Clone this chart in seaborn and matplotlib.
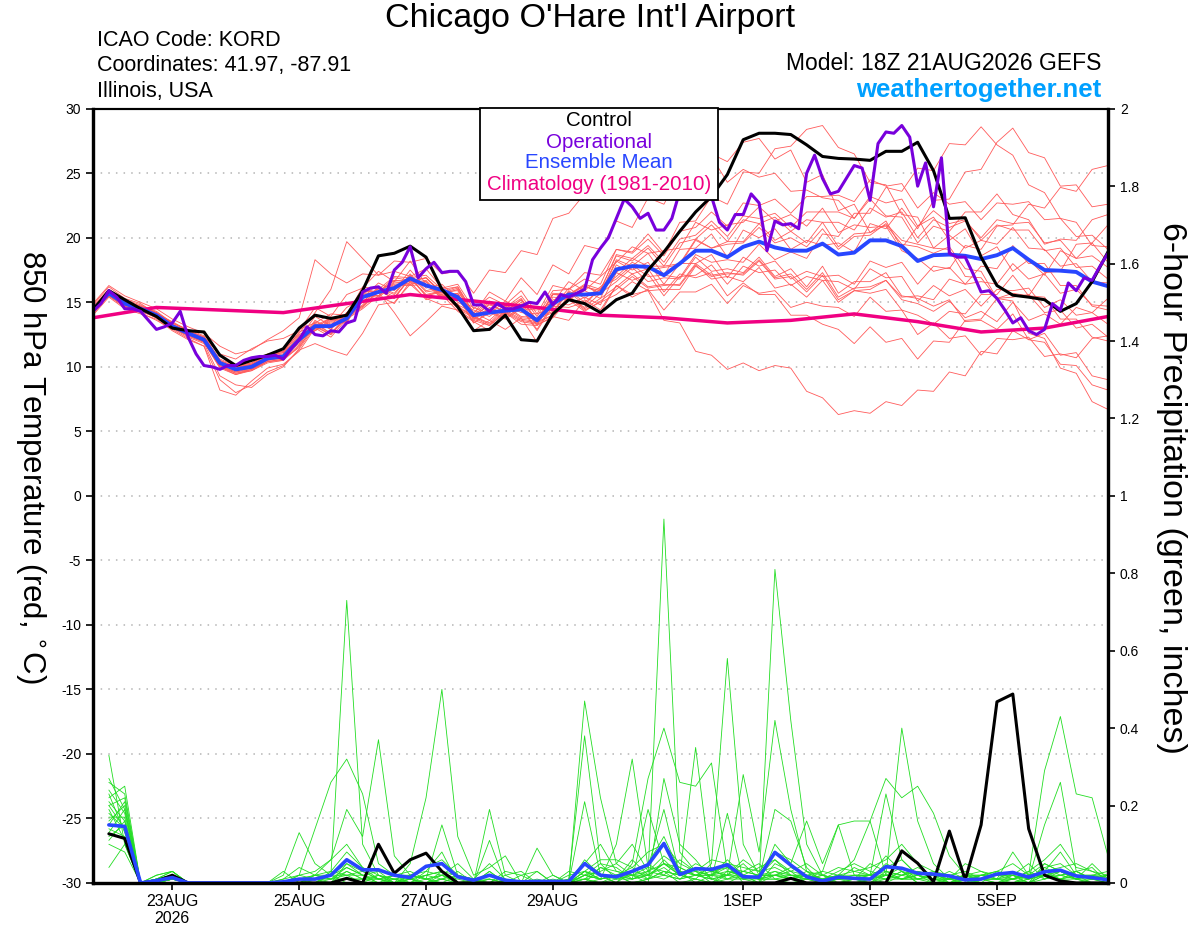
import matplotlib
matplotlib.use("Agg")
import numpy as np
import pandas as pd
import matplotlib.pyplot as plt
from matplotlib.patches import Rectangle
import seaborn as sns

START = "2026-08-21 18:00"

TICK_DATES = ["2026-08-23", "2026-08-25", "2026-08-27", "2026-08-29",
              "2026-09-01", "2026-09-03", "2026-09-05"]
TICK_LABELS = ["23AUG\n2026", "25AUG", "27AUG", "29AUG", "1SEP", "3SEP", "5SEP"]

# 850 hPa temperature, 6-hourly from 18Z 21AUG (65 values)
CONTROL_T = [
    14.4, 15.9, 15.2, 14.5, 13.9, 13.0, 12.8, 12.7,
    10.9, 10.1, 10.5, 10.9, 11.4, 13.0, 14.0, 13.75,
    14.0, 15.9, 18.6, 18.8, 19.35, 18.5, 16.0, 14.65,
    12.8, 12.9, 14.0, 12.1, 12.0, 14.1, 15.2, 14.9,
    14.2, 15.2, 15.7, 17.5, 18.9, 20.5, 22.0, 23.2,
    24.9, 27.6, 28.1, 28.1, 28.0, 27.2, 26.3, 26.15,
    26.1, 26.0, 26.7, 26.7, 27.4, 25.2, 21.5, 21.55,
    18.5, 16.3, 15.55, 15.4, 15.2, 14.3, 14.9, 16.6,
    18.9,
]
MEAN_T = [
    14.4, 15.7, 14.9, 14.5, 14.0, 13.15, 12.6, 12.1,
    10.3, 9.8, 10.0, 10.65, 10.8, 12.1, 13.15, 13.15,
    13.75, 15.4, 15.8, 16.1, 16.85, 16.3, 15.95, 15.4,
    14.0, 14.2, 14.35, 14.45, 13.6, 14.9, 15.6, 15.6,
    15.7, 17.55, 17.8, 17.75, 17.1, 18.0, 19.0, 19.0,
    18.5, 19.3, 19.7, 19.25, 19.0, 19.0, 19.55, 18.7,
    18.85, 19.8, 19.8, 19.35, 18.2, 18.65, 18.7, 18.6,
    18.35, 18.65, 19.2, 18.3, 17.5, 17.45, 17.35, 16.6,
    16.25,
]
# operational run, 3-hourly (129 values)
OPER_T = [
    14.3, 14.9, 15.9, 15.4, 14.5, 14.5, 14.3, 13.6,
    12.9, 13.1, 13.4, 14.3, 12.3, 11.0, 10.1, 10.0,
    9.8, 10.1, 10.1, 10.5, 10.7, 10.8, 10.8, 10.9,
    10.6, 11.4, 12.1, 13.1, 12.5, 12.4, 12.8, 12.7,
    13.4, 13.6, 15.8, 16.1, 16.2, 15.7, 17.5, 18.1,
    19.3, 16.9, 17.6, 18.1, 17.3, 17.4, 17.4, 16.6,
    14.8, 14.8, 14.3, 14.9, 14.5, 14.5, 14.7, 15.0,
    14.9, 15.8, 14.8, 15.6, 15.4, 15.7, 16.0, 18.3,
    19.2, 20.0, 21.5, 23.0, 22.4, 21.5, 21.9, 20.6,
    20.6, 21.5, 23.6, 24.3, 24.8, 24.2, 23.2, 21.2,
    20.6, 21.8, 21.8, 23.4, 22.7, 19.0, 21.3, 21.0,
    21.1, 20.7, 25.0, 26.4, 24.6, 23.4, 23.6, 24.6,
    25.6, 25.4, 22.9, 27.3, 28.2, 28.1, 28.7, 27.8,
    24.0, 25.8, 22.4, 26.2, 18.8, 18.5, 18.5, 17.2,
    15.8, 15.9, 15.3, 14.4, 13.4, 13.8, 12.8, 12.5,
    12.9, 14.9, 14.4, 16.5, 15.9, 16.9, 16.7, 17.8,
    18.8,
]
# climatology, daily points
CLIM_T = [13.8, 14.6, 14.4, 14.2, 14.9, 15.6, 15.1, 14.6, 14.0,
          13.8, 13.4, 13.6, 14.1, 13.5, 12.7, 13.0, 13.9]

TEMP_MEMBERS = [
    [14.8, 16.2, 15.3, 14.9, 14.1, 13.5, 12.8, 12.3,
     11.0, 10.6, 11.4, 12.0, 12.2,
     12.8, 14.6, 13.9, 15.6, 16.1, 17.4, 16.6, 18.2, 16.4, 15.8,
     16.2, 14.1, 15.8, 15.1, 16.9, 15.6, 17.9, 17.2, 19.4, 19.1,
     21.3, 20.8, 23.1, 22.6, 24.9, 24.4, 26.5, 25.9, 27.4, 27.7, 26.1,
     26.8, 24.3, 24.9, 22.1, 22.6, 20.4, 21.3, 19.2, 20.9, 21.6, 19.8,
     20.7, 18.6, 19.3, 17.4, 18.3, 17.1, 19.0, 18.4, 19.6, 18.1],
    [14.1, 15.5, 14.6, 14.2, 13.6, 12.9, 12.2, 11.6,
     9.0, 8.0, 8.6, 9.6, 10.1,
     11.3, 11.8, 11.3, 10.9, 12.6, 14.8, 15.0, 16.4, 15.3, 14.8,
     14.9, 12.8, 13.6, 12.9, 13.8, 11.9, 13.9, 13.6, 15.2, 14.4,
     16.3, 15.6, 15.9, 13.6, 13.4, 11.2, 10.9, 9.8, 10.3, 9.7, 10.1,
     9.9, 8.1, 7.6, 6.3, 6.6, 6.4, 7.3, 7.0, 8.2, 8.1, 9.6,
     9.3, 11.2, 11.0, 12.8, 12.1, 12.6, 10.9, 11.1, 9.3, 9.0],
    [14.6, 15.9, 15.1, 14.7, 14.3, 13.4, 12.9, 12.4,
     10.5, 10.0, 10.1, 10.9, 11.2,
     12.6, 14.2, 16.0, 19.7, 18.4, 17.1, 17.4, 17.0, 17.6, 16.1,
     16.4, 14.5, 15.4, 14.8, 15.9, 14.1, 16.3, 16.0, 17.3, 17.1,
     19.1, 18.9, 20.3, 18.8, 21.2, 21.3, 23.2, 22.6, 25.1, 25.0, 26.9,
     27.1, 28.4, 28.7, 27.0, 26.5, 24.3, 24.1, 21.8, 21.6, 19.2, 19.1,
     17.0, 16.9, 15.3, 15.7, 15.5, 17.3, 17.4, 19.5, 19.6, 21.0],
    [14.3, 15.6, 14.8, 14.4, 13.8, 13.0, 12.4, 11.9,
     10.0, 9.4, 9.8, 10.4, 10.6,
     11.7, 13.4, 12.6, 13.9, 14.8, 16.1, 15.4, 16.9, 15.6, 15.9,
     14.7, 13.9, 13.4, 14.6, 13.8, 13.7, 14.2, 15.8, 14.8, 16.1,
     16.8, 17.9, 17.0, 17.1, 16.9, 18.7, 18.1, 18.3, 18.1, 19.5, 18.3,
     18.9, 18.4, 20.3, 20.1, 21.9, 21.9, 23.9, 23.6, 25.4, 25.2, 27.3,
     27.2, 28.6, 27.2, 26.4, 24.1, 23.5, 21.5, 21.2, 19.4, 19.3],
    [14.5, 15.8, 15.0, 14.6, 14.2, 13.3, 12.7, 12.2,
     10.3, 9.9, 10.2, 10.6, 10.9,
     12.4, 13.0, 13.8, 13.7, 15.9, 15.7, 16.7, 16.6, 16.9, 15.6,
     16.0, 13.8, 14.9, 14.2, 15.2, 13.5, 15.6, 15.5, 16.3, 15.7,
     18.3, 17.8, 18.8, 17.1, 19.1, 19.2, 20.3, 18.5, 20.6, 20.0, 20.7,
     19.1, 19.8, 19.4, 19.6, 18.9, 21.1, 20.7, 22.3, 20.7, 22.9, 23.0,
     25.1, 25.3, 27.4, 28.5, 26.6, 26.2, 24.0, 24.1, 22.4, 22.6],
    [14.2, 15.6, 14.7, 14.3, 13.9, 13.1, 12.5, 12.0,
     10.1, 9.6, 9.8, 10.5, 10.7,
     12.3, 12.8, 13.7, 13.5, 16.0, 15.8, 16.9, 16.7, 16.9, 15.7,
     16.1, 14.0, 15.0, 14.5, 15.3, 13.6, 15.7, 15.6, 16.3, 15.6,
     18.2, 17.5, 18.1, 16.4, 18.0, 18.0, 18.7, 16.9, 18.5, 17.8, 18.2,
     16.8, 17.4, 17.0, 17.1, 16.4, 18.2, 17.7, 18.1, 16.4, 17.8, 17.6,
     19.4, 19.1, 20.9, 21.0, 22.6, 22.3, 23.9, 23.6, 25.3, 25.6],
    [14.6, 15.9, 15.1, 14.7, 14.0, 13.2, 12.6, 12.0,
     10.2, 9.7, 9.9, 10.6, 10.7,
     12.0, 13.6, 12.9, 14.2, 15.0, 16.1, 15.6, 17.1, 15.8, 16.0,
     14.8, 14.2, 13.6, 14.7, 13.9, 13.8, 14.3, 15.9, 15.0, 16.0,
     17.0, 18.1, 17.5, 17.7, 17.9, 19.8, 19.2, 19.7, 19.7, 21.1, 19.8,
     20.5, 19.6, 21.2, 19.3, 20.3, 20.4, 21.0, 19.5, 19.3, 18.8, 19.3,
     17.6, 17.4, 15.3, 15.1, 12.6, 12.2, 9.9, 9.5, 7.3, 6.7],
    [14.0, 15.4, 14.5, 14.1, 13.7, 12.8, 12.1, 11.6,
     8.2, 7.8, 8.9, 9.9, 10.2,
     11.2, 13.0, 12.3, 13.7, 14.5, 15.5, 14.9, 16.6, 15.2, 15.6,
     14.3, 13.5, 12.8, 14.2, 13.3, 13.2, 13.9, 15.4, 14.6, 15.7,
     16.6, 17.7, 16.6, 16.9, 16.8, 18.5, 17.4, 17.6, 17.3, 18.5, 17.0,
     17.6, 16.2, 17.8, 15.7, 16.6, 16.6, 17.3, 15.5, 15.3, 14.7, 15.2,
     13.5, 13.6, 12.9, 14.1, 12.1, 11.9, 10.2, 10.1, 8.6, 8.2],
    [14.9, 16.3, 15.5, 15.0, 14.5, 13.7, 13.1, 12.6,
     11.6, 11.0, 11.3, 12.1, 12.8,
     13.8, 18.3, 17.2, 16.5, 17.2, 17.1, 18.2, 18.1, 18.4, 17.2,
     17.4, 15.7, 17.5, 17.3, 19.0, 18.7, 21.5, 21.9, 23.4, 23.0,
     24.6, 24.3, 25.9, 24.6, 26.0, 25.8, 26.3, 24.3, 25.3, 24.7, 25.0,
     23.6, 23.7, 23.1, 22.9, 21.5, 23.0, 21.7, 21.6, 19.6, 20.9, 20.5,
     22.0, 22.0, 23.4, 21.8, 21.4, 19.5, 19.9, 19.8, 21.4, 21.8],
    [14.4, 15.7, 14.9, 14.5, 14.1, 13.2, 12.6, 12.1,
     10.1, 9.5, 9.7, 10.4, 10.6,
     11.5, 13.3, 12.6, 13.9, 14.7, 15.9, 15.3, 16.9, 15.5, 15.8,
     14.5, 13.8, 13.2, 14.3, 13.6, 13.4, 14.0, 15.4, 14.4, 15.0,
     15.6, 16.6, 15.9, 16.0, 16.0, 17.8, 17.0, 17.2, 17.2, 18.3, 16.9,
     17.2, 16.0, 17.3, 15.4, 16.1, 16.2, 16.7, 15.4, 15.5, 15.2, 16.8,
     16.4, 17.8, 17.6, 19.4, 18.0, 18.0, 16.3, 16.3, 14.7, 14.4],
    [14.7, 16.0, 15.2, 14.8, 14.2, 13.4, 12.8, 12.3,
     10.6, 10.1, 10.3, 11.0, 11.2,
     12.9, 13.4, 14.1, 14.0, 16.2, 16.0, 17.0, 16.9, 17.1, 16.0,
     16.2, 14.2, 15.1, 14.6, 15.5, 13.9, 15.9, 16.0, 16.8, 16.4,
     19.1, 18.8, 19.9, 18.6, 20.5, 20.8, 22.0, 20.9, 22.7, 22.5, 23.0,
     21.9, 23.2, 23.2, 23.3, 22.8, 24.5, 24.0, 24.2, 22.3, 23.5, 22.6,
     22.8, 21.4, 22.7, 22.6, 22.8, 21.4, 21.5, 20.1, 20.2, 19.1],
    [14.3, 15.5, 14.7, 14.3, 13.8, 13.0, 12.3, 11.8,
     9.3, 8.6, 8.4, 9.4, 10.0,
     11.4, 13.1, 12.5, 13.8, 14.6, 15.8, 14.2, 12.4, 13.5, 14.7,
     14.4, 13.6, 13.2, 14.2, 13.5, 13.3, 13.8, 15.2, 14.3, 15.1,
     16.0, 17.0, 16.1, 16.3, 16.4, 18.0, 17.1, 17.3, 17.1, 18.2, 16.8,
     17.0, 15.8, 17.1, 15.2, 15.9, 15.7, 16.0, 14.4, 14.0, 13.3, 14.3,
     14.1, 15.6, 15.6, 17.1, 15.5, 15.4, 13.7, 13.7, 12.3, 12.0],
    [14.5, 15.7, 14.9, 14.5, 14.0, 13.1, 12.6, 12.0,
     10.4, 9.9, 10.2, 10.8, 11.0,
     12.5, 13.1, 13.7, 13.6, 15.8, 15.5, 16.6, 16.4, 16.6, 15.5,
     15.7, 13.7, 14.6, 14.1, 15.0, 13.3, 15.4, 15.3, 16.2, 15.9,
     18.7, 18.4, 19.4, 18.1, 19.9, 20.2, 21.3, 20.1, 21.7, 21.5, 21.9,
     20.8, 22.0, 22.0, 22.0, 21.5, 23.2, 22.7, 23.0, 20.9, 22.1, 21.1,
     21.4, 19.8, 21.0, 20.6, 20.6, 19.0, 19.2, 17.7, 17.8, 16.8],
    [14.4, 15.6, 14.8, 14.4, 13.9, 13.0, 12.5, 11.9,
     10.0, 9.5, 9.8, 10.4, 10.5,
     12.1, 12.8, 13.4, 13.4, 15.5, 15.4, 16.3, 16.3, 16.4, 15.3,
     15.4, 13.4, 14.2, 13.7, 14.5, 12.8, 14.7, 14.6, 15.0, 14.2,
     16.3, 15.4, 16.0, 14.4, 15.8, 15.8, 16.4, 14.9, 16.3, 15.7, 15.9,
     14.6, 15.0, 14.7, 14.6, 13.9, 15.4, 14.3, 14.4, 12.5, 13.4, 12.2,
     12.4, 10.9, 12.2, 12.1, 12.3, 10.8, 11.0, 10.7, 12.2, 12.4],
    [14.6, 15.8, 15.0, 14.6, 14.1, 13.3, 12.7, 12.2,
     10.4, 10.0, 10.3, 10.9, 11.1,
     12.2, 13.9, 13.2, 14.6, 15.3, 16.5, 15.9, 17.5, 16.1, 16.4,
     15.2, 14.6, 14.1, 15.1, 14.5, 14.4, 15.0, 16.6, 15.9, 17.0,
     18.1, 19.3, 18.8, 19.0, 19.2, 21.2, 20.6, 21.0, 21.2, 22.4, 21.3,
     21.8, 20.9, 22.3, 20.4, 21.0, 20.8, 20.9, 19.0, 18.4, 17.4, 17.7,
     16.4, 16.6, 16.4, 18.0, 16.8, 17.2, 15.7, 16.0, 14.8, 14.7],
    [14.2, 15.5, 14.7, 14.3, 13.9, 13.1, 12.5, 12.0,
     10.2, 9.7, 10.0, 10.6, 10.8,
     12.3, 12.8, 13.6, 13.5, 15.7, 15.5, 16.5, 16.5, 16.7, 15.4,
     15.7, 13.6, 14.5, 14.0, 14.8, 13.2, 15.2, 15.2, 15.9, 15.3,
     17.9, 17.2, 17.6, 15.8, 17.2, 16.9, 17.3, 15.5, 16.5, 15.6, 15.6,
     14.0, 14.0, 13.3, 12.9, 11.8, 13.1, 11.9, 12.2, 10.6, 12.0, 11.9,
     13.6, 13.7, 15.3, 15.4, 15.6, 14.2, 14.4, 13.0, 13.3, 12.3],
    [14.5, 15.8, 15.0, 14.6, 14.1, 13.2, 12.6, 12.1,
     10.3, 9.8, 10.1, 10.7, 10.9,
     11.8, 13.5, 12.9, 14.2, 15.0, 16.2, 15.7, 17.2, 15.9, 16.2,
     15.0, 14.4, 13.9, 14.8, 14.2, 14.1, 14.6, 16.1, 15.3, 16.2,
     17.3, 18.4, 17.8, 17.8, 18.0, 19.9, 19.2, 19.5, 19.6, 20.8, 19.6,
     20.0, 19.3, 20.7, 19.1, 20.1, 20.2, 21.1, 19.8, 19.5, 19.2, 20.2,
     19.2, 19.8, 19.5, 20.8, 19.2, 19.1, 17.8, 18.0, 16.6, 16.5],
    [14.3, 15.7, 14.9, 14.5, 14.0, 13.2, 12.5, 12.0,
     10.1, 9.6, 9.9, 10.5, 10.7,
     12.2, 12.9, 13.5, 13.4, 15.6, 15.5, 16.4, 16.4, 16.6, 15.3,
     15.6, 13.4, 14.3, 13.8, 14.6, 12.9, 14.9, 14.8, 15.4, 14.8,
     17.3, 16.7, 17.2, 15.5, 17.0, 17.1, 17.9, 16.4, 17.8, 17.3, 17.5,
     16.3, 17.0, 16.7, 16.6, 16.0, 17.6, 16.9, 17.0, 15.1, 16.3, 15.5,
     16.0, 14.7, 16.0, 15.9, 16.1, 14.6, 15.2, 14.0, 14.2, 13.3],
    [14.6, 15.9, 15.1, 14.7, 14.2, 13.4, 12.8, 12.3,
     10.5, 10.0, 10.2, 10.9, 11.1,
     12.7, 13.2, 13.8, 13.8, 15.9, 15.8, 16.7, 16.6, 16.9, 15.8,
     15.9, 13.9, 14.8, 14.3, 15.2, 13.6, 15.6, 15.6, 16.4, 16.0,
     18.6, 18.2, 19.2, 17.8, 19.6, 19.9, 21.0, 19.7, 21.4, 21.1, 21.6,
     20.5, 21.4, 21.2, 21.2, 20.6, 22.3, 21.6, 22.0, 20.0, 21.4, 20.8,
     21.3, 20.0, 21.4, 21.1, 21.2, 19.6, 19.8, 18.4, 18.6, 17.7],
    [14.4, 15.6, 14.8, 14.4, 13.9, 13.1, 12.4, 11.9,
     9.9, 9.4, 9.7, 10.3, 10.5,
     11.6, 13.2, 12.5, 13.9, 14.7, 15.9, 15.3, 16.9, 15.5, 15.9,
     14.6, 13.9, 13.3, 14.4, 13.7, 13.5, 14.0, 15.5, 14.5, 15.3,
     16.2, 17.2, 16.2, 16.4, 16.3, 17.9, 16.8, 17.0, 16.6, 17.7, 16.1,
     16.4, 15.4, 16.7, 15.0, 15.9, 16.0, 16.7, 15.2, 14.9, 14.3, 15.1,
     13.8, 14.3, 13.5, 15.0, 13.6, 14.1, 13.3, 14.6, 14.2, 15.3],
]

# 6-hour precipitation (inches), 6-hourly from 00Z 22AUG (64 values)
CONTROL_P = [
    .127, .115, 0, .005, .02, 0, 0, 0,
    0, 0, 0, 0, 0, 0, 0, .012,
    0, .10, .025, .06, .077, .03, 0, 0,
    0, 0, 0, 0, 0, 0, 0, 0,
    0, 0, 0, 0, 0, 0, 0, 0,
    0, 0, 0, .012, 0, 0, 0, 0,
    0, 0, .083, .051, .003, .134, .008, .15,
    .468, .488, .14, .02, .005, 0, 0, 0,
]
MEAN_P = [
    .15, .146, 0, .006, .014, 0, 0, 0,
    0, 0, 0, .003, .01, .01, .02, .06,
    .034, .034, .02, .014, .043, .05, .016, .007,
    .02, .007, .003, .004, .004, .004, .05, .02,
    .016, .03, .047, .102, .022, .037, .035, .047,
    .016, .015, .079, .046, .016, .005, .015, .012,
    .01, .042, .038, .025, .023, .018, .008, .01,
    .023, .027, .015, .029, .033, .018, .014, .008,
]
PRECIP_MEMBERS = [
    [.24, .18, 0, .01, .02, 0, 0, 0,
     0, 0, 0, .02, .13, .05, .02, .73,
     .10, .02, 0, 0, .03, .08, 0, 0,
     .02, 0, 0, 0, 0, 0, .06, .02,
     0, .03, .05, .12, .03, 0, .02, .05,
     0, 0, .81, .42, .10, .02, 0, 0,
     .01, .05, .03, 0, 0, 0, .01, 0,
     0, .02, 0, .03, .08, .02, 0, 0],
    [.33, .10, 0, 0, .01, 0, 0, 0,
     0, 0, 0, 0, .02, .14, .26, .32,
     .23, .05, .02, 0, 0, .02, 0, 0,
     0, 0, 0, .03, 0, 0, .47, .22,
     .05, .02, 0, .27, .10, .06, .01, 0,
     .02, 0, .05, .03, 0, 0, .01, .04,
     .02, .23, .06, .02, 0, 0, 0, .02,
     .01, 0, .01, .15, .26, .03, .01, 0],
    [.20, .22, 0, .02, .03, 0, 0, 0,
     0, 0, 0, .01, .04, .02, .06, .19,
     .12, .37, .07, .02, .01, 0, 0, 0,
     .01, 0, 0, 0, 0, .01, .38, .05,
     .01, .06, .02, .94, .08, .03, 0, .02,
     .05, .01, .19, .16, .04, 0, 0, 0,
     0, .03, .02, .01, 0, 0, .02, .01,
     0, 0, 0, .02, .03, .01, .05, .01],
    [.18, .14, 0, 0, .02, 0, 0, 0,
     0, 0, 0, 0, 0, 0, .03, .08,
     .04, .02, 0, .05, .22, .50, .12, .02,
     .04, .07, 0, 0, 0, 0, .03, .01,
     .10, .32, .04, .03, 0, .01, .05, .58,
     .10, .02, .06, .02, .01, 0, .02, .01,
     0, .02, .40, .16, .05, .01, 0, 0,
     0, 0, .02, .05, .03, .01, 0, 0],
    [.16, .20, 0, .01, .01, 0, 0, 0,
     0, 0, 0, 0, 0, 0, 0, .05,
     .03, .01, 0, 0, .01, .15, .02, 0,
     .19, .02, 0, .09, .02, 0, .21, .02,
     0, .05, .27, .40, .26, .25, .31, .03,
     .02, 0, .10, .05, .16, .05, .15, .02,
     .01, 0, .02, .03, .02, 0, .01, .01,
     .01, .08, .02, .29, .43, .23, .22, .07],
    [.22, .25, 0, .01, .03, 0, 0, 0,
     0, 0, 0, 0, 0, .02, .01, .04,
     .02, 0, 0, 0, 0, .03, 0, 0,
     .11, 0, 0, 0, 0, .03, .02, .05,
     .04, .01, .19, .05, .02, .35, .02, .02,
     .28, .08, .42, .19, .03, 0, .02, .06,
     .16, .27, .22, .25, .18, .07, .02, 0,
     0, 0, 0, .02, .01, .03, .04, 0],
    [.12, .15, 0, 0, .01, 0, 0, 0,
     0, 0, 0, .03, 0, .02, .03, .02,
     0, 0, .02, .03, .01, .02, .05, .01,
     0, .02, .03, 0, 0, 0, .05, .10,
     .03, .02, .04, .19, .02, .04, .01, .18,
     .01, .01, .02, .02, .02, .03, .15, .16,
     .16, .02, .01, .03, .02, .01, .05, .03,
     .01, .02, .05, .01, .03, .02, .01, .02],
    [.14, .12, 0, .01, .02, 0, 0, 0,
     0, 0, 0, 0, .01, 0, 0, .03,
     .01, .02, .01, 0, .02, .03, 0, .01,
     0, 0, 0, 0, 0, 0, .02, .03,
     .05, .10, .03, .02, .01, .02, .03, .02,
     .03, .02, .03, .01, 0, 0, 0, .01,
     .02, .07, .03, 0, 0, .01, 0, 0,
     .03, .02, 0, .05, .03, .01, .02, .01],
    [.10, .08, 0, 0, .01, 0, 0, 0,
     0, 0, 0, 0, 0, 0, .02, .02,
     .02, 0, 0, .01, 0, .01, .03, 0,
     0, 0, 0, 0, 0, .01, .01, 0,
     .02, 0, .01, .06, .02, .05, .03, .04,
     .01, .02, .02, .04, .02, .01, .03, .05,
     .03, .02, .04, .01, .01, .03, .01, .02,
     .02, .02, .01, .04, .05, .02, .01, .02],
    [.04, .10, 0, .01, .02, 0, 0, 0,
     0, 0, 0, 0, .01, .01, 0, .01,
     0, .02, .01, 0, 0, 0, 0, 0,
     .03, 0, 0, 0, 0, 0, .02, .01,
     .02, .02, .01, .03, .02, .01, 0, .03,
     .02, .01, .01, 0, .01, .02, .01, .01,
     .01, .01, .01, .02, .03, 0, 0, .01,
     0, .01, .02, .02, .01, 0, .01, .01],
    [.21, .16, 0, 0, .01, 0, 0, 0,
     0, 0, 0, 0, .02, .03, .06, .10,
     .04, .01, .02, .02, .04, .06, .02, .01,
     .02, .01, 0, 0, 0, 0, .03, .06,
     .06, .04, .08, .10, .05, .03, .06, .05,
     .04, .03, .08, .06, .03, .01, .02, .03,
     .04, .06, .10, .05, .03, .02, .01, 0,
     0, .01, .03, .06, .10, .04, .03, .01],
    [.19, .11, 0, .01, .02, 0, 0, 0,
     0, 0, 0, 0, 0, 0, 0, 0,
     0, 0, 0, .01, .02, .03, .02, .01,
     .05, .01, 0, 0, 0, 0, .01, .02,
     .01, .02, .03, .07, .04, .02, .02, .06,
     .02, .04, .06, .03, .05, .02, .04, .03,
     .02, .04, .06, .02, .01, 0, 0, .02,
     .03, .05, .02, .03, .04, .05, .03, .02],
    [.27, .19, 0, 0, .01, 0, 0, 0,
     0, 0, 0, 0, 0, 0, .02, .05,
     .02, .03, 0, 0, 0, .01, .02, 0,
     .03, 0, 0, 0, 0, 0, 0, .01,
     .02, .01, .02, .04, .01, .04, .03, .02,
     .06, .03, .04, .02, .02, .01, .02, .02,
     .02, .03, .02, .04, .02, .01, .02, .03,
     .02, .02, .01, .02, .02, .03, .01, .01],
    [.15, .21, 0, .01, .01, 0, 0, 0,
     0, 0, 0, 0, 0, .01, .02, 0,
     0, 0, .01, .02, .01, 0, 0, 0,
     0, 0, .02, 0, 0, 0, .02, .01,
     .02, 0, .01, .03, .02, .01, 0, .01,
     .01, 0, .02, .01, .01, .02, .01, .02,
     .02, .01, .03, .01, .02, .01, .01, .01,
     .01, .01, 0, .01, .02, .01, 0, 0],
    [.23, .13, 0, 0, .02, 0, 0, 0,
     0, 0, 0, .01, .02, .01, .01, .03,
     .01, .01, .01, .01, 0, .01, 0, 0,
     0, 0, 0, 0, .01, 0, 0, .04,
     .03, .02, .02, .05, .03, .02, .04, .01,
     .02, .01, .02, .03, .02, .01, 0, .01,
     0, .01, .02, .03, .01, .01, .02, .02,
     .01, .03, .01, .02, .01, .02, .02, .03],
    [.17, .17, 0, .01, .03, 0, 0, 0,
     0, 0, 0, 0, .01, .02, .01, .02,
     .03, .01, 0, .02, .03, .02, .01, 0,
     0, .03, .02, .03, 0, .02, .03, .02,
     .02, .03, .05, .02, .06, .03, .02, .04,
     .03, .05, .01, .02, .01, .03, .02, .01,
     .05, .03, .01, .02, .01, .01, .02, .01,
     .02, .03, .01, .04, .02, .01, .01, .02],
    [.26, .23, 0, .02, .03, 0, 0, 0,
     0, 0, 0, 0, 0, 0, 0, 0,
     0, 0, 0, 0, 0, 0, 0, 0,
     0, 0, 0, 0, 0, 0, .01, .04,
     .02, .01, .03, .05, .04, .02, .02, .03,
     .02, .01, .01, .01, .02, .01, .01, .02,
     .02, .02, .01, .01, .02, .02, .01, 0,
     0, 0, .01, .02, .03, .02, .01, 0],
    [.13, .19, 0, 0, .01, 0, 0, 0,
     0, 0, 0, 0, 0, 0, .01, .01,
     .01, 0, 0, .01, .02, .01, 0, 0,
     0, 0, 0, 0, .02, 0, .01, 0,
     .01, .01, .02, .01, .03, .02, .01, .02,
     .02, .01, .03, .02, .01, 0, .01, .01,
     .01, .02, .01, .01, .02, .02, .03, .01,
     .01, .01, .02, .03, .01, .01, .02, .01],
    [.20, .14, 0, .01, .02, 0, 0, 0,
     0, 0, 0, 0, .01, .02, .02, .04,
     .02, .01, .02, .01, 0, 0, .02, .01,
     .01, 0, 0, .01, 0, 0, .03, .01,
     .02, .03, .02, .05, .02, .03, .02, .01,
     .03, .02, .02, .01, .03, .02, .01, 0,
     .01, .02, .01, .02, .01, 0, .02, .02,
     .03, .01, .02, .02, .01, .02, .02, .02],
    [.11, .16, 0, 0, .02, 0, 0, 0,
     0, 0, 0, 0, 0, 0, 0, .01,
     .01, .01, 0, .02, .01, .02, 0, 0,
     .01, 0, 0, 0, 0, 0, .02, .01,
     .02, .04, .01, .02, .01, .02, .01, .02,
     .01, .02, .02, .01, .02, .01, .02, .01,
     .02, .01, .03, .02, .01, .01, .01, .02,
     .02, .01, .03, .01, .02, .03, .01, .02],
]

RED = "#ff5a5a"
GREEN = "#22dd22"
PURPLE = "#7800dc"
BLUE = "#2846ff"
MAGENTA = "#f00082"

sns.set_style("ticks")
plt.rcParams["font.family"] = ["Liberation Sans", "DejaVu Sans"]
plt.rcParams["axes.unicode_minus"] = False
plt.rcParams["text.color"] = "black"
plt.rcParams["axes.edgecolor"] = "black"
plt.rcParams["xtick.color"] = "black"
plt.rcParams["ytick.color"] = "black"
plt.rcParams["axes.labelcolor"] = "black"

times6 = pd.date_range(START, periods=65, freq="6h")
times3 = pd.date_range(START, periods=129, freq="3h")
times_p = times6[1:]
times_clim = pd.date_range(START, periods=17, freq="24h")

for row in TEMP_MEMBERS:
    assert len(row) == len(times6)
for row in PRECIP_MEMBERS:
    assert len(row) == len(times_p)

temp_df = pd.DataFrame(
    [(m, t, v) for m, row in enumerate(TEMP_MEMBERS) for t, v in zip(times6, row)],
    columns=["member", "time", "value"])
precip_df = pd.DataFrame(
    [(m, t, v) for m, row in enumerate(PRECIP_MEMBERS) for t, v in zip(times_p, row)],
    columns=["member", "time", "value"])

fig = plt.figure(figsize=(12, 9.27), dpi=100)
ax = fig.add_axes([0.0775, 0.0475, 0.8458, 0.8352])

# temperature
sns.lineplot(data=temp_df, x="time", y="value", units="member", estimator=None,
             color=RED, lw=0.6, ax=ax, legend=False)
sns.lineplot(x=times_clim, y=CLIM_T, color=MAGENTA, lw=2.5, ax=ax)
sns.lineplot(x=times6, y=MEAN_T, color=BLUE, lw=2.8, ax=ax)
sns.lineplot(x=times6, y=CONTROL_T, color="black", lw=2.2, ax=ax)
sns.lineplot(x=times3, y=OPER_T, color=PURPLE, lw=2.2, ax=ax)

ax.set_ylim(-30, 30)
ax.set_yticks(np.arange(-30, 31, 5))
ax.set_xlim(times6[0], times6[-1])
ax.set_xticks(list(pd.to_datetime(TICK_DATES)))
ax.set_xticklabels(TICK_LABELS)
ax.set_xlabel("")
ax.set_ylabel("")
ax.grid(axis="y", color="#b4b4b4", ls=(0, (1, 4)), lw=1.1)
ax.tick_params(axis="y", labelsize=10, length=5, width=1.2, direction="out")
ax.tick_params(axis="x", labelsize=11.5, length=5, width=1.2, direction="out", pad=3)

# precipitation
ax2 = ax.twinx()
sns.lineplot(data=precip_df, x="time", y="value", units="member", estimator=None,
             color=GREEN, lw=0.6, ax=ax2, legend=False)
sns.lineplot(x=times_p, y=CONTROL_P, color="black", lw=2.2, ax=ax2)
sns.lineplot(x=times_p, y=MEAN_P, color=BLUE, lw=2.6, ax=ax2)
ax2.set_ylim(0, 2)
p_ticks = np.round(np.arange(0, 2.01, 0.2), 1)
ax2.set_yticks(p_ticks)
ax2.set_yticklabels([f"{v:g}" for v in p_ticks])
ax2.set_ylabel("")
ax2.set_xlim(times6[0], times6[-1])
ax2.tick_params(axis="y", labelsize=10, length=5, width=1.2, direction="out")

for a in (ax, ax2):
    a.spines["left"].set_linewidth(2.3)
    a.spines["right"].set_linewidth(2.3)
    a.spines["bottom"].set_linewidth(2.3)
    a.spines["top"].set_linewidth(1.5)

# headers
fig.text(0.4917, 1 - 19 / 927, "Chicago O'Hare Int'l Airport", ha="center", va="center", fontsize=24.5)
fig.text(0.0808, 1 - 40 / 927, "ICAO Code: KORD", ha="left", va="center", fontsize=15.5)
fig.text(0.0808, 1 - 66 / 927, "Coordinates: 41.97, -87.91", ha="left", va="center", fontsize=15.5)
fig.text(0.0808, 1 - 92 / 927, "Illinois, USA", ha="left", va="center", fontsize=15.5)
fig.text(0.9175, 1 - 64 / 927, "Model: 18Z 21AUG2026 GEFS", ha="right", va="center", fontsize=16.5)
fig.text(0.9175, 1 - 90 / 927, "weathertogether.net", ha="right", va="center", fontsize=18.5,
         color="#00a0ff", fontweight="bold")

fig.text(31 / 1200, 1 - 467 / 927, "850 hPa Temperature (red, $^{\\circ}$C)", rotation=270,
         ha="center", va="center", fontsize=22.5)
fig.text(1172 / 1200, 1 - 488 / 927, "6-hour Precipitation (green, inches)", rotation=270,
         ha="center", va="center", fontsize=24.5)

# legend box
fig.add_artist(Rectangle((480 / 1200, 1 - 200 / 927), 238 / 1200, 92 / 927,
                         transform=fig.transFigure, facecolor="white", edgecolor="black",
                         lw=1.3, zorder=5))
legend_items = [("Control", "black", 121), ("Operational", PURPLE, 142),
                ("Ensemble Mean", BLUE, 163), ("Climatology (1981-2010)", MAGENTA, 185)]
for text, color, ypix in legend_items:
    fig.text(599 / 1200, 1 - ypix / 927, text, color=color, ha="center", va="center",
             fontsize=14.8, zorder=6)

fig.savefig("out.png", dpi=100)
